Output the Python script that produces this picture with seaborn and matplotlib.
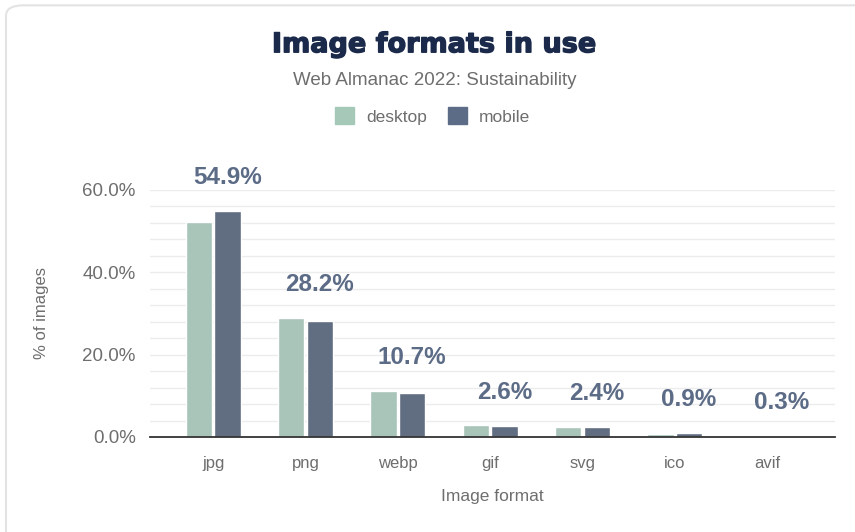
import pandas as pd
import matplotlib.pyplot as plt
import matplotlib.patheffects as pe
import seaborn as sns
from matplotlib.patches import FancyBboxPatch, Patch

# dados
formats = ['jpg', 'png', 'webp', 'gif', 'svg', 'ico', 'avif']
desktop = [52.3, 28.9, 11.2, 2.8, 2.4, 0.8, 0.2]
mobile = [54.9, 28.2, 10.7, 2.6, 2.4, 0.9, 0.3]
labels = ['54.9%', '28.2%', '10.7%', '2.6%', '2.4%', '0.9%', '0.3%']

df = pd.DataFrame({'format': formats * 2,
                   'client': ['desktop'] * 7 + ['mobile'] * 7,
                   'pct': desktop + mobile})

green = '#a5c8b8'
navy = '#5c6b86'
grey = '#6e6e6e'
title_color = '#1b2a4a'

sns.set_theme(style='white')
plt.rcParams['font.family'] = ['Liberation Sans', 'DejaVu Sans']

fig = plt.figure(figsize=(8.55, 5.32), dpi=100)
ax = fig.add_axes([0.175, 0.1786, 0.802, 0.4643])

bar_w = 0.62
sns.barplot(data=df, x='format', y='pct', hue='client', palette=[green, navy],
            width=bar_w, gap=0.08, ax=ax, legend=False)

ax.set_xlim(-0.69, 6.74)
ax.set_ylim(0, 60)
ax.set_yticks([0, 20, 40, 60])
ax.set_yticklabels(['0.0%', '20.0%', '40.0%', '60.0%'], color=grey, fontsize=13.5)
ax.set_yticks(range(0, 61, 4), minor=True)
ax.grid(axis='y', which='both', color='#ececec', linewidth=1)
ax.set_axisbelow(True)
ax.tick_params(axis='y', which='major', length=7, color='#dddddd', pad=3)
ax.tick_params(axis='y', which='minor', length=0)
ax.tick_params(axis='x', length=5, color='#888888', labelsize=12, labelcolor=grey, pad=9)
for s in ['top', 'right', 'left']:
    ax.spines[s].set_visible(False)
ax.spines['bottom'].set_color('#333333')
ax.spines['bottom'].set_linewidth(1.3)

ax.set_xlabel('Image format', color=grey, fontsize=12.5, labelpad=13)
ax.set_ylabel('% of images', color=grey, fontsize=12, labelpad=24)

# rótulos com o valor mobile acima da barra mobile
for i, lab in enumerate(labels):
    top = max(desktop[i], mobile[i])
    ax.annotate(lab, (i + bar_w / 4, top), xytext=(0, 24), textcoords='offset points',
                ha='center', va='center', fontsize=17.5, fontweight='bold',
                color=navy, annotation_clip=False)

fig.text(0.508, 0.915, 'Image formats in use', ha='center', va='center',
         fontsize=19.5, fontweight='bold', family=['DejaVu Sans'], color=title_color,
         path_effects=[pe.withStroke(linewidth=1.0, foreground=title_color)])
fig.text(0.508, 0.849, 'Web Almanac 2022: Sustainability', ha='center', va='center',
         fontsize=13.5, color=grey)

handles = [Patch(color=green, label='desktop'), Patch(color=navy, label='mobile')]
fig.legend(handles=handles, loc='center', bbox_to_anchor=(0.506, 0.782), ncol=2,
           frameon=False, fontsize=12.5, handlelength=1.1, handleheight=1.1,
           columnspacing=1.2, handletextpad=0.7, labelcolor=grey)

# moldura arredondada
fig.patches.append(FancyBboxPatch((0.007, -0.1), 1.1, 1.09, boxstyle='round,pad=0,rounding_size=0.02',
                                  transform=fig.transFigure, fill=False,
                                  edgecolor='#e3e3e3', linewidth=1.5))

fig.savefig('out.png', dpi=100)
